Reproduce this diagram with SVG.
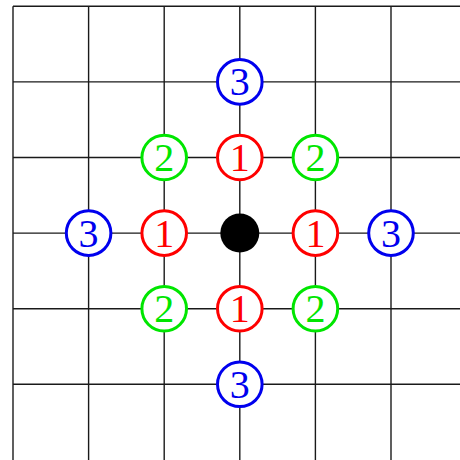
<svg xmlns="http://www.w3.org/2000/svg" width="460" height="460" viewBox="0 0 460 460">
<style>
.g line{stroke:#1a1a1a;stroke-width:1.4}
.n circle{fill:#fff;stroke-width:3}
.n text{font-family:"Liberation Serif","Times New Roman",serif;font-size:40px;text-anchor:middle}
.r circle{stroke:#ff0000}.r text{fill:#ff0000}
.gr circle{stroke:#00e600}.gr text{fill:#00e600}
.b circle{stroke:#0000ee}.b text{fill:#0000ee}
</style>
<rect width="460" height="460" fill="#fff"/>
<g id="connectors" class="g">
<line x1="13" y1="6.3" x2="13" y2="460"/>
<line x1="88.6" y1="6.3" x2="88.6" y2="460"/>
<line x1="164.2" y1="6.3" x2="164.2" y2="460"/>
<line x1="239.8" y1="6.3" x2="239.8" y2="460"/>
<line x1="315.4" y1="6.3" x2="315.4" y2="460"/>
<line x1="391" y1="6.3" x2="391" y2="460"/>
<line x1="13" y1="6.3" x2="460" y2="6.3"/>
<line x1="13" y1="81.9" x2="460" y2="81.9"/>
<line x1="13" y1="157.5" x2="460" y2="157.5"/>
<line x1="13" y1="233.1" x2="460" y2="233.1"/>
<line x1="13" y1="308.7" x2="460" y2="308.7"/>
<line x1="13" y1="384.3" x2="460" y2="384.3"/>
</g>
<g id="center"><circle cx="239.8" cy="233.1" r="19.5" fill="#000"/></g>
<g id="n1t" class="n r"><circle cx="239.8" cy="157.5" r="22.3"/><text x="239.8" y="171">1</text></g>
<g id="n1l" class="n r"><circle cx="164.2" cy="233.1" r="22.3"/><text x="164.2" y="246.6">1</text></g>
<g id="n1r" class="n r"><circle cx="315.4" cy="233.1" r="22.3"/><text x="315.4" y="246.6">1</text></g>
<g id="n1b" class="n r"><circle cx="239.8" cy="308.7" r="22.3"/><text x="239.8" y="322.2">1</text></g>
<g id="n2tl" class="n gr"><circle cx="164.2" cy="157.5" r="22.3"/><text x="164.2" y="171">2</text></g>
<g id="n2tr" class="n gr"><circle cx="315.4" cy="157.5" r="22.3"/><text x="315.4" y="171">2</text></g>
<g id="n2bl" class="n gr"><circle cx="164.2" cy="308.7" r="22.3"/><text x="164.2" y="322.2">2</text></g>
<g id="n2br" class="n gr"><circle cx="315.4" cy="308.7" r="22.3"/><text x="315.4" y="322.2">2</text></g>
<g id="n3t" class="n b"><circle cx="239.8" cy="81.9" r="22.3"/><text x="239.8" y="95.4">3</text></g>
<g id="n3l" class="n b"><circle cx="88.6" cy="233.1" r="22.3"/><text x="88.6" y="246.6">3</text></g>
<g id="n3r" class="n b"><circle cx="391" cy="233.1" r="22.3"/><text x="391" y="246.6">3</text></g>
<g id="n3b" class="n b"><circle cx="239.8" cy="384.3" r="22.3"/><text x="239.8" y="397.8">3</text></g>
</svg>
